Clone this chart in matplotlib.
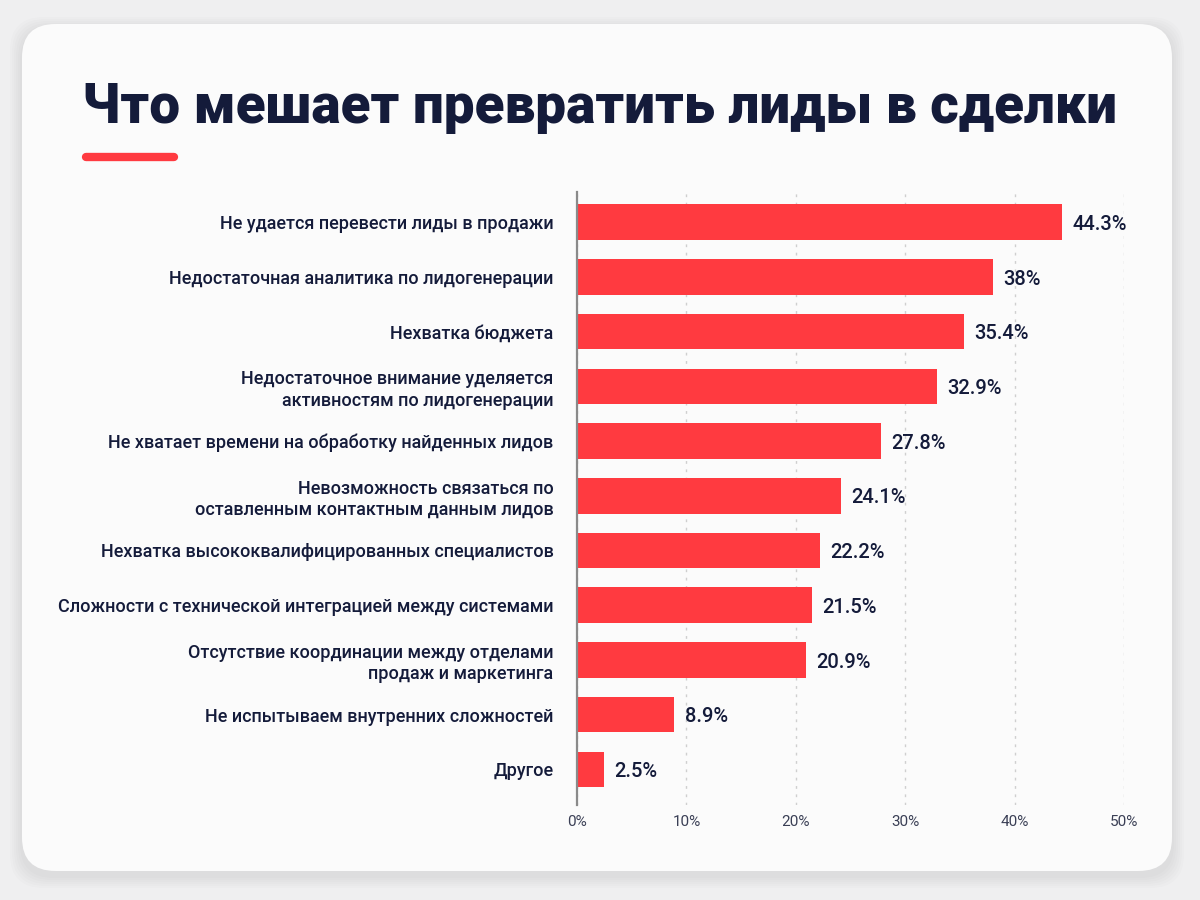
import matplotlib
matplotlib.use("Agg")
import matplotlib.pyplot as plt
from matplotlib.patches import FancyBboxPatch
from matplotlib.lines import Line2D

title = "Что мешает превратить лиды в сделки"
categories = [
    "Не удается перевести лиды в продажи",
    "Недостаточная аналитика по лидогенерации",
    "Нехватка бюджета",
    "Недостаточное внимание уделяется\nактивностям по лидогенерации",
    "Не хватает времени на обработку найденных лидов",
    "Невозможность связаться по\nоставленным контактным данным лидов",
    "Нехватка высококвалифицированных специалистов",
    "Сложности с технической интеграцией между системами",
    "Отсутствие координации между отделами\nпродаж и маркетинга",
    "Не испытываем внутренних сложностей",
    "Другое",
]
values = [44.3, 38, 35.4, 32.9, 27.8, 24.1, 22.2, 21.5, 20.9, 8.9, 2.5]
value_labels = ["44.3%", "38%", "35.4%", "32.9%", "27.8%", "24.1%", "22.2%", "21.5%", "20.9%", "8.9%", "2.5%"]
xticks = [0, 10, 20, 30, 40, 50]
xtick_labels = ["0%", "10%", "20%", "30%", "40%", "50%"]

RED = "#FF3A40"
NAVY = "#141B3A"
FONT = "Roboto"

fig = plt.figure(figsize=(12, 9), dpi=100)
fig.patch.set_facecolor("#EFEFF0")

# soft shadow + card
for i in range(6):
    g = 12 - 2 * i
    fig.patches.append(FancyBboxPatch((22 / 1200 - g / 1200, 1 - 871 / 900 - g / 900 - 5 / 900),
                                      (1150 + 2 * g) / 1200, (847 + 2 * g) / 900,
                                      boxstyle="round,pad=0,rounding_size=0.028",
                                      transform=fig.transFigure, facecolor="#000000", alpha=0.012,
                                      edgecolor="none", zorder=-3, mutation_aspect=1.33))
fig.patches.append(FancyBboxPatch((22 / 1200, 1 - 871 / 900), 1150 / 1200, 847 / 900,
                                  boxstyle="round,pad=0,rounding_size=0.028",
                                  transform=fig.transFigure, facecolor="#FBFBFB",
                                  edgecolor="none", zorder=-2, mutation_aspect=1.33))

fig.text(82 / 1200, 1 - 123 / 900, title, fontsize=39.5, fontweight="black", color=NAVY,
         family=FONT, ha="left", va="baseline")
fig.add_artist(Line2D([86 / 1200, 174 / 1200], [1 - 157 / 900, 1 - 157 / 900],
                      transform=fig.transFigure, color=RED, linewidth=6, solid_capstyle="round"))

ax = fig.add_axes([577 / 1200, 1 - 805 / 900, (1124 - 577) / 1200, (805 - 192) / 900])
ax.set_facecolor("none")
y = list(range(len(categories)))
ax.barh(y, values, height=0.65, color=RED, zorder=3)
ax.set_xlim(0, 50)
ax.set_ylim(len(categories) - 0.35, -0.55)
ax.set_yticks(y)
ax.set_yticklabels(categories, fontsize=13, fontweight="medium", color=NAVY, family=FONT,
                   linespacing=1.25)
ax.tick_params(axis="y", length=0, pad=17)
ax.set_xticks(xticks)
ax.set_xticklabels(xtick_labels, fontsize=11, color="#3A3F55", family=FONT)
ax.tick_params(axis="x", length=0, pad=7)
for s in ["top", "right", "bottom"]:
    ax.spines[s].set_visible(False)
ax.spines["left"].set_color("#8A8A8A")
ax.spines["left"].set_linewidth(1.6)
ax.spines["left"].set_zorder(4)
ax.grid(axis="x", linestyle=(0, (2, 4)), color="#CFCFCF", linewidth=1, zorder=0)
ax.set_axisbelow(True)
for yi, v, lab in zip(y, values, value_labels):
    ax.text(v + 0.95, yi + 0.04, lab, va="center", ha="left", fontsize=14.5, fontweight="medium",
            color=NAVY, family=FONT)

fig.savefig("out.png", dpi=100, facecolor=fig.get_facecolor())
